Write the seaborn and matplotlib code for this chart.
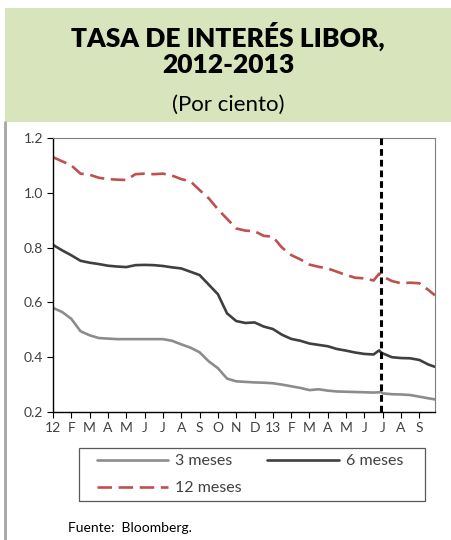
import matplotlib
matplotlib.use("Agg")
import matplotlib.pyplot as plt
import matplotlib.patches as mpatches
import matplotlib.lines as mlines
import pandas as pd
import seaborn as sns

# months since Jan 2012
months = [0, 0.5, 1, 1.5, 2, 2.5, 3, 3.5, 4, 4.5, 5, 5.5, 6, 6.5, 7, 7.5, 8, 8.5,
          9, 9.5, 10, 10.5, 11, 11.5, 12, 12.5, 13, 13.5, 14, 14.5, 15, 15.5, 16,
          16.5, 17, 17.5, 17.8, 17.9, 18, 18.5, 19, 19.5, 20, 20.5, 20.85]

libor_3m = [0.58, 0.565, 0.54, 0.495, 0.48, 0.47, 0.468, 0.466, 0.466, 0.466, 0.466,
            0.466, 0.466, 0.46, 0.447, 0.435, 0.418, 0.385, 0.36, 0.322, 0.312, 0.31,
            0.308, 0.307, 0.305, 0.30, 0.294, 0.288, 0.28, 0.283, 0.278, 0.275, 0.274,
            0.273, 0.272, 0.271, 0.272, 0.273, 0.268, 0.265, 0.264, 0.262, 0.256,
            0.25, 0.246]

libor_6m = [0.81, 0.79, 0.772, 0.752, 0.745, 0.74, 0.734, 0.731, 0.729, 0.736, 0.737,
            0.736, 0.733, 0.728, 0.724, 0.712, 0.70, 0.665, 0.63, 0.56, 0.532, 0.525,
            0.527, 0.512, 0.503, 0.482, 0.467, 0.46, 0.45, 0.445, 0.44, 0.43, 0.424,
            0.417, 0.412, 0.41, 0.425, 0.418, 0.414, 0.40, 0.397, 0.396, 0.39,
            0.373, 0.365]

libor_12m = [1.13, 1.115, 1.10, 1.07, 1.066, 1.055, 1.05, 1.048, 1.047, 1.068, 1.07,
             1.068, 1.07, 1.063, 1.05, 1.042, 1.01, 0.98, 0.94, 0.905, 0.87, 0.862,
             0.86, 0.843, 0.84, 0.80, 0.773, 0.757, 0.738, 0.73, 0.724, 0.712, 0.70,
             0.69, 0.688, 0.68, 0.705, 0.698, 0.695, 0.678, 0.67, 0.672, 0.67,
             0.645, 0.626]

series_names = ["3 meses", "6 meses", "12 meses"]
month_labels = ["12", "F", "M", "A", "M", "J", "J", "A", "S", "O", "N", "D",
                "13", "F", "M", "A", "M", "J", "J", "A", "S"]
yticks = [0.2, 0.4, 0.6, 0.8, 1.0, 1.2]
marker_month = 17.9  # end of June 2013

colors = {"3 meses": "#8c8c8c", "6 meses": "#3f3f3f", "12 meses": "#c0504d"}
red_dash = (5.5, 2.5)
dashes = {"3 meses": "", "6 meses": "", "12 meses": red_dash}

df = pd.DataFrame({"mes": months, "3 meses": libor_3m,
                   "6 meses": libor_6m, "12 meses": libor_12m})
long_df = df.melt(id_vars="mes", var_name="plazo", value_name="tasa")

sns.set_style("white")
plt.rcParams["font.family"] = ["Lato", "DejaVu Sans"]

fig = plt.figure(figsize=(4.52, 5.40), dpi=100)
fig.patches.append(mpatches.Rectangle((0.011, 0.774), 0.989, 0.211,
                                      transform=fig.transFigure,
                                      facecolor="#d8e4bc", edgecolor="none", zorder=0))
fig.lines.append(mlines.Line2D([0.011, 0.011], [0.0, 0.774], transform=fig.transFigure,
                               color="#a6a6a6", lw=2))

fig.text(0.505, 0.913, "TASA DE INTERÉS LIBOR,", ha="center", va="baseline",
         fontsize=19, fontweight="heavy", color="black")
fig.text(0.505, 0.865, "2012-2013", ha="center", va="baseline",
         fontsize=19, fontweight="heavy", color="black")
fig.text(0.505, 0.794, "(Por ciento)", ha="center", va="baseline",
         fontsize=16, color="black")

ax = fig.add_axes([0.1173, 0.237, 0.845, 0.5074])
sns.lineplot(data=long_df, x="mes", y="tasa", hue="plazo", style="plazo",
             hue_order=series_names, style_order=series_names,
             palette=colors, dashes=dashes, linewidth=1.9, sort=False,
             estimator=None, ax=ax, legend=False)
ax.axvline(marker_month, color="black", lw=2.2, ls=(0, (2.2, 1.3)), zorder=5)

ax.set_xlim(0, 20.85)
ax.set_ylim(0.2, 1.2)
ax.set_xticks(range(len(month_labels)))
ax.set_xticklabels(month_labels)
ax.set_yticks(yticks)
ax.set_yticklabels([f"{v:.1f}" for v in yticks])
ax.set_xlabel("")
ax.set_ylabel("")
ax.tick_params(axis="both", direction="out", length=4, width=0.8, color="black",
               labelsize=10, labelcolor="#404040", pad=3, bottom=True, left=True)
for side in ["left", "bottom"]:
    ax.spines[side].set_color("black")
    ax.spines[side].set_linewidth(1.0)
for side in ["top", "right"]:
    ax.spines[side].set_color("#7f7f7f")
    ax.spines[side].set_linewidth(0.8)

# legend frame drawn separately so the padding matches
fig.patches.append(mpatches.Rectangle((0.175, 0.072), 0.765, 0.098,
                                      transform=fig.transFigure, facecolor="white",
                                      edgecolor="#595959", lw=0.9, zorder=1))
# legend filled column-wise: row 1 = 3m, 6m; row 2 = 12m
leg_order = ["3 meses", "12 meses", "6 meses"]
handles = [mlines.Line2D([], [], color=colors[n], lw=1.9,
                         ls=(0, red_dash) if n == "12 meses" else "-")
           for n in leg_order]
leg = fig.legend(handles, leg_order, loc="center left", ncol=2,
                 bbox_to_anchor=(0.2146, 0.121), frameon=False, fontsize=11.5,
                 handlelength=4.45, handletextpad=0.45, labelspacing=0.8,
                 columnspacing=1.6, borderpad=0, borderaxespad=0)
for t in leg.get_texts():
    t.set_color("#404040")

fig.text(0.150, 0.022, "Fuente:  Bloomberg.", fontsize=10, color="black",
         ha="left", va="center")

fig.savefig("out.png", dpi=100)
